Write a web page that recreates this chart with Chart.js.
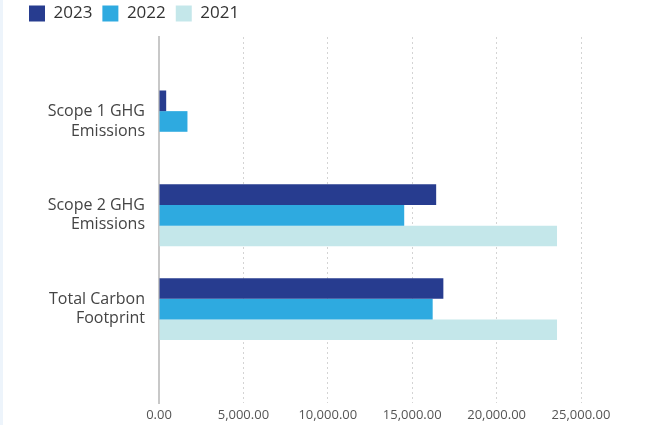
<!DOCTYPE html>
<html>
<head>
<meta charset="utf-8">
<script src="https://cdn.jsdelivr.net/npm/chart.js@4/dist/chart.umd.min.js"></script>
<style>
  html, body { margin: 0; padding: 0; background: #fff; }
  .wrap { width: 643px; height: 425px; border-left: 3px solid #edf4fb; }
</style>
</head>
<body>
<div class="wrap"><canvas id="emissions" width="643" height="425"></canvas></div>
<script>
const categories = [['Scope 1 GHG', 'Emissions'], ['Scope 2 GHG', 'Emissions'], ['Total Carbon', 'Footprint']];
const years = ['2023', '2022', '2021'];
const values2023 = [426, 16420, 16846];
const values2022 = [1686, 14527, 16213];
const values2021 = [0, 23580, 23580];
const xTicks = [0, 5000, 10000, 15000, 20000, 25000];

const colors = ['#273c8f', '#2eaae0', '#c4e7ea'];
const font = "'Open Sans', 'DejaVu Sans', sans-serif";

const fmt = v => Number(v).toLocaleString('en-US', { minimumFractionDigits: 2, maximumFractionDigits: 2 });

// a bit more room between the legend and the plot
const legendGap = {
  id: 'legendGap',
  beforeInit(chart) {
    const fit = chart.legend.fit;
    chart.legend.fit = function () {
      fit.bind(chart.legend)();
      this.height += 5;
    };
  }
};

new Chart(document.getElementById('emissions'), {
  type: 'bar',
  data: {
    labels: categories,
    datasets: [values2023, values2022, values2021].map((d, i) => ({
      label: years[i],
      data: d,
      backgroundColor: colors[i],
      borderWidth: 0,
      categoryPercentage: 0.66,
      barPercentage: 1.0
    }))
  },
  options: {
    indexAxis: 'y',
    responsive: false,
    animation: false,
    layout: { padding: { left: 16, right: 65, top: -5, bottom: 0 } },
    plugins: {
      tooltip: { enabled: false },
      legend: {
        position: 'top',
        align: 'start',
        labels: {
          boxWidth: 16,
          boxHeight: 16,
          padding: 10,
          color: '#333',
          font: { family: font, size: 17 }
        }
      }
    },
    scales: {
      x: {
        min: 0,
        max: 25000,
        afterBuildTicks: s => { s.ticks = xTicks.map(v => ({ value: v })); },
        afterFit: s => { s.height = 22; },
        ticks: {
          color: '#555',
          padding: 4,
          font: { family: font, size: 13 },
          callback: v => fmt(v)
        },
        grid: {
          color: '#d4d4d4',
          lineWidth: 1,
          drawTicks: false
        },
        border: { display: false, dash: [2, 3] }
      },
      y: {
        offset: false,
        // spread the three groups over a wider band so they sit mid-plot
        afterBuildTicks: s => {
          s.ticks = [0, 1, 2].map(v => ({ value: v }));
          s.min = -0.9;
          s.max = 3.0;
          s._startValue = -0.9;
          s._valueRange = 3.9;
        },
        afterFit: s => {
          s.width = 140;
          s.paddingTop = 0;
          s.paddingBottom = 0;
        },
        ticks: {
          color: '#444',
          padding: 14,
          labelOffset: ctx => [-5, 0, 7][ctx.index] || 0,
          font: { family: font, size: 16, lineHeight: 1.2 }
        },
        grid: { display: false, drawTicks: false },
        border: { display: true, color: '#c8c8c8', width: 2 }
      }
    }
  },
  plugins: [legendGap]
});
</script>
</body>
</html>
